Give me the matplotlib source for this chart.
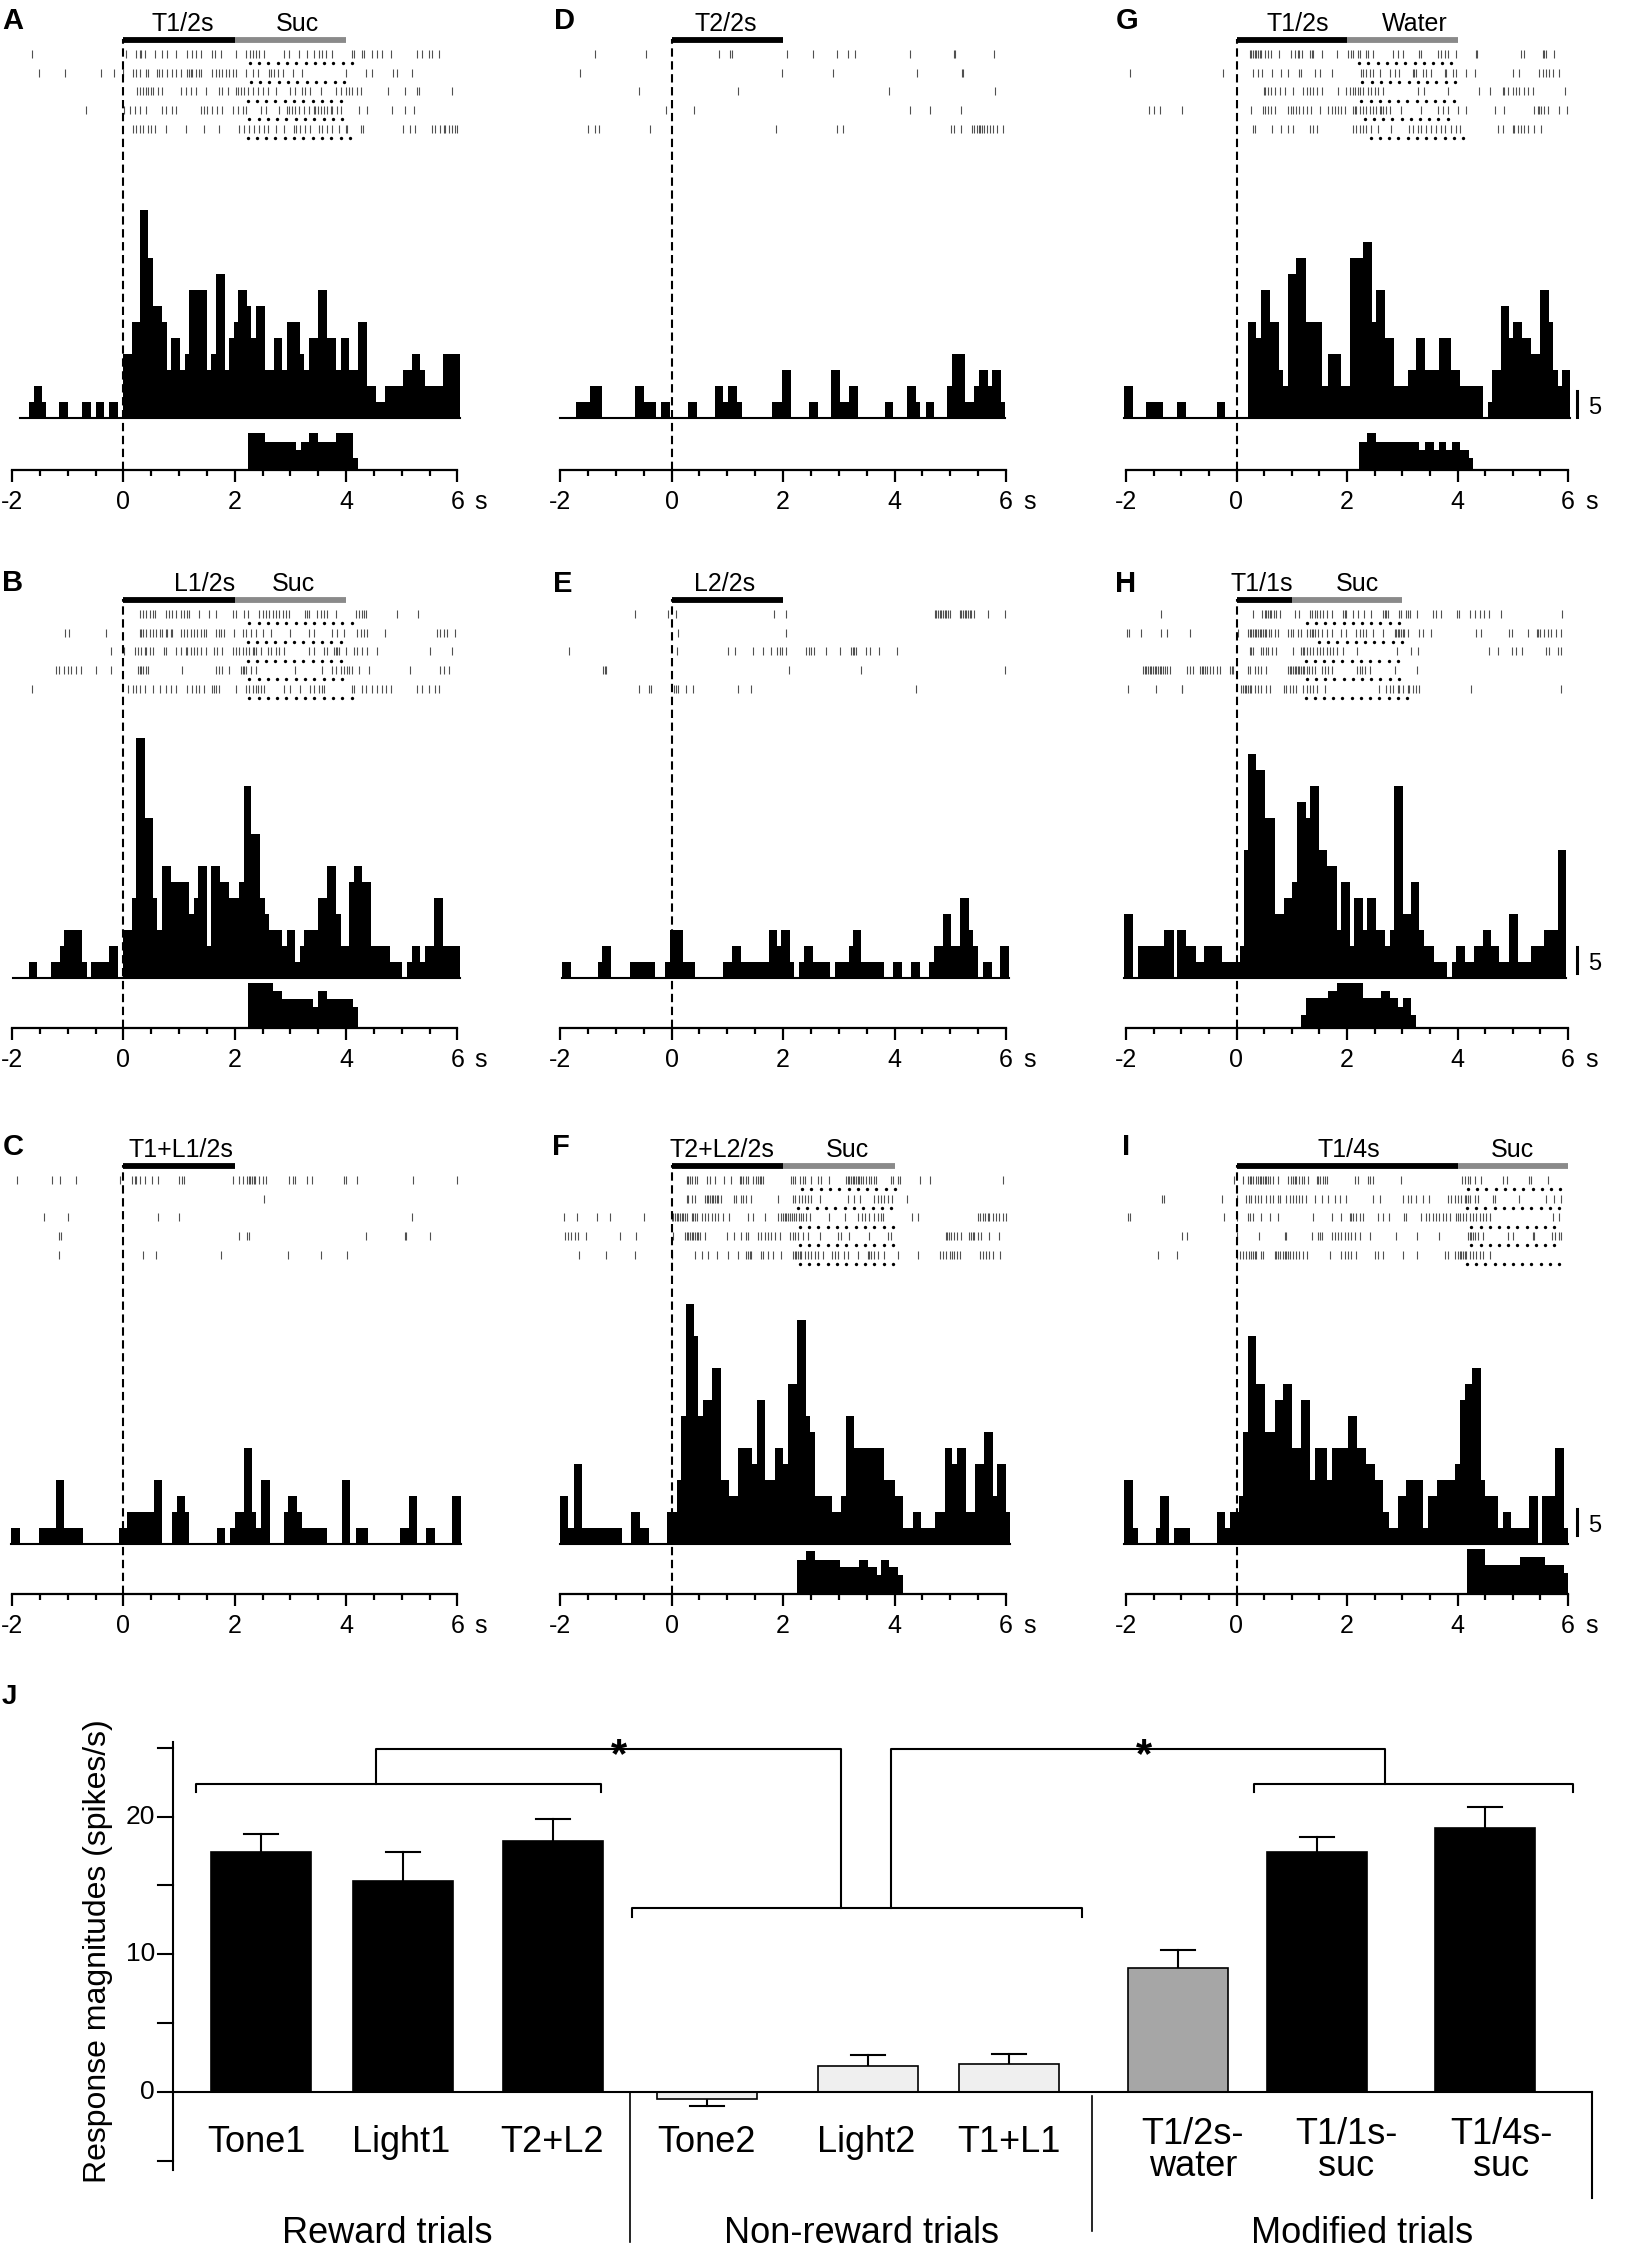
"""
PSTH panels A-I (raster + histogram + lick histogram) and bar summary J.
"""
import numpy as np
import matplotlib
matplotlib.use("Agg")
import matplotlib.pyplot as plt

plt.rcParams["font.family"] = ["Liberation Sans", "DejaVu Sans"]

# ---------------- data: PSTH step histograms (1 unit = 3 spikes/s) ----------------
A_edges = [-1.85, -1.70, -1.61, -1.46, -1.39, -1.15, -0.99, -0.74, -0.58, -0.50, -0.35, -0.26, -0.10, 0.0,
           0.15, 0.30, 0.45, 0.54, 0.69, 0.78, 0.86, 1.02, 1.10, 1.18, 1.50, 1.58, 1.66, 1.82, 1.90, 1.99,
           2.06, 2.22, 2.30, 2.38, 2.54, 2.70, 2.85, 2.93, 3.18, 3.25, 3.34, 3.50, 3.66, 3.82, 3.90, 4.05,
           4.22, 4.38, 4.54, 4.70, 5.02, 5.18, 5.33, 5.42, 5.74, 6.05]
A_counts = [0, 1, 2, 1, 0, 1, 0, 1, 0, 1, 0, 1, 0, 4, 6, 13, 10, 7, 6, 3, 5, 3, 4, 8, 3, 4, 9, 3, 5, 6,
            8, 7, 5, 7, 3, 5, 3, 6, 4, 3, 5, 8, 5, 3, 5, 3, 6, 2, 1, 2, 3, 4, 3, 2, 4]
B_edges = [-1.98, -1.69, -1.55, -1.30, -1.13, -1.06, -0.75, -0.66, -0.58, -0.26, -0.10, -0.01, 0.15, 0.23,
           0.38, 0.54, 0.61, 0.69, 0.85, 1.18, 1.27, 1.34, 1.50, 1.58, 1.74, 1.90, 2.08, 2.16, 2.30, 2.45,
           2.54, 2.62, 2.85, 2.93, 3.09, 3.18, 3.25, 3.50, 3.66, 3.81, 3.90, 4.06, 4.14, 4.29, 4.45, 4.78,
           5.01, 5.10, 5.18, 5.33, 5.42, 5.57, 5.74, 6.05]
B_counts = [0, 1, 0, 1, 2, 3, 1, 0, 1, 2, 0, 3, 5, 15, 10, 5, 3, 7, 6, 4, 5, 7, 2, 7, 6, 5, 6, 12, 9, 5,
            4, 3, 2, 3, 1, 2, 3, 5, 7, 4, 2, 6, 7, 6, 2, 1, 0, 1, 2, 1, 2, 5, 2]
C_edges = [-2.01, -1.86, -1.52, -1.21, -1.06, -0.73, -0.08, 0.07, 0.55, 0.70, 0.88, 0.96, 1.11, 1.18, 1.68,
           1.83, 1.92, 2.00, 2.16, 2.31, 2.38, 2.47, 2.63, 2.88, 2.96, 3.11, 3.20, 3.66, 3.92, 4.07, 4.17,
           4.39, 4.96, 5.13, 5.27, 5.44, 5.59, 5.91, 6.07]
C_counts = [1, 0, 1, 4, 1, 0, 1, 2, 4, 0, 2, 3, 2, 0, 1, 0, 1, 2, 6, 2, 1, 4, 0, 2, 3, 2, 1, 0, 4, 0,
            1, 0, 1, 3, 0, 1, 0, 3]
D_edges = [-2.0, -1.72, -1.47, -1.24, -0.66, -0.50, -0.27, -0.18, -0.03, 0.30, 0.45, 0.78, 0.93, 1.02, 1.17,
           1.26, 1.81, 1.98, 2.14, 2.47, 2.62, 2.86, 3.02, 3.19, 3.34, 3.83, 3.98, 4.23, 4.39, 4.46, 4.56,
           4.70, 4.95, 5.03, 5.27, 5.43, 5.51, 5.67, 5.75, 5.91, 5.99]
D_counts = [0, 1, 2, 0, 2, 1, 0, 1, 0, 1, 0, 2, 1, 2, 1, 0, 1, 3, 0, 1, 0, 3, 1, 2, 0, 1, 0, 2, 1, 0,
            1, 0, 2, 4, 1, 2, 3, 2, 3, 1]
E_edges = [-1.96, -1.81, -1.32, -1.24, -1.09, -0.75, -0.29, -0.11, -0.03, 0.20, 0.43, 0.93, 1.08, 1.25, 1.74,
           1.89, 1.96, 2.13, 2.20, 2.29, 2.38, 2.53, 2.85, 2.94, 3.18, 3.25, 3.40, 3.82, 3.97, 4.13, 4.30,
           4.45, 4.62, 4.70, 4.87, 5.02, 5.18, 5.34, 5.41, 5.50, 5.59, 5.74, 5.90, 6.05]
E_counts = [1, 0, 1, 2, 0, 1, 0, 1, 3, 1, 0, 1, 2, 1, 3, 2, 3, 1, 0, 1, 2, 1, 0, 1, 2, 3, 1, 0, 1, 0,
            1, 0, 1, 2, 4, 2, 5, 3, 2, 0, 1, 0, 2]
F_edges = [-2.00, -1.85, -1.75, -1.60, -0.88, -0.72, -0.56, -0.41, -0.08, 0.09, 0.17, 0.26, 0.40, 0.48, 0.57,
           0.73, 0.88, 1.04, 1.20, 1.44, 1.53, 1.68, 1.85, 2.00, 2.09, 2.25, 2.41, 2.48, 2.57, 2.88, 3.04,
           3.13, 3.28, 3.82, 4.00, 4.16, 4.33, 4.48, 4.73, 4.90, 5.04, 5.12, 5.28, 5.44, 5.61, 5.76, 5.84,
           6.00, 6.08]
F_counts = [3, 1, 5, 1, 0, 2, 1, 0, 2, 4, 8, 15, 13, 8, 9, 11, 4, 3, 6, 5, 9, 4, 6, 5, 10, 14, 8, 7, 3, 2,
            3, 8, 6, 4, 3, 1, 2, 1, 2, 6, 5, 6, 2, 5, 7, 3, 5, 2]
G_edges = [-2.03, -1.87, -1.63, -1.33, -1.07, -0.92, -0.35, -0.20, 0.21, 0.36, 0.45, 0.60, 0.77, 0.84, 0.93,
           1.08, 1.25, 1.55, 1.66, 1.89, 2.05, 2.29, 2.45, 2.53, 2.69, 2.85, 3.10, 3.25, 3.42, 3.66, 3.89,
           4.05, 4.46, 4.55, 4.63, 4.79, 4.94, 5.00, 5.17, 5.33, 5.49, 5.65, 5.72, 5.81, 5.89, 6.04]
G_counts = [2, 0, 1, 0, 1, 0, 1, 0, 6, 5, 8, 6, 3, 2, 9, 10, 6, 2, 4, 2, 10, 11, 6, 8, 5, 2, 3, 5, 3, 5,
            3, 2, 0, 1, 3, 7, 5, 6, 5, 4, 8, 6, 3, 2, 3]
H_edges = [-2.03, -1.87, -1.78, -1.31, -1.14, -1.07, -0.92, -0.74, -0.58, -0.27, 0.06, 0.13, 0.21, 0.36, 0.52,
           0.69, 0.86, 1.01, 1.10, 1.25, 1.33, 1.49, 1.64, 1.81, 1.90, 2.05, 2.13, 2.29, 2.37, 2.53, 2.68,
           2.77, 2.85, 3.01, 3.16, 3.31, 3.40, 3.57, 3.81, 3.90, 3.98, 4.14, 4.30, 4.46, 4.60, 4.76, 4.94,
           5.09, 5.33, 5.57, 5.81, 5.96]
H_counts = [4, 0, 2, 3, 0, 3, 2, 1, 2, 1, 2, 8, 14, 13, 10, 4, 5, 6, 11, 10, 12, 8, 7, 3, 6, 2, 5, 3, 5, 3,
            2, 3, 12, 4, 6, 3, 2, 1, 0, 1, 2, 1, 2, 3, 2, 1, 4, 1, 2, 3, 8]
I_edges = [-2.03, -1.87, -1.78, -1.46, -1.39, -1.23, -1.14, -0.84, -0.35, -0.20, -0.11, 0.05, 0.12, 0.21, 0.36,
           0.52, 0.69, 0.84, 1.01, 1.16, 1.33, 1.42, 1.63, 1.73, 2.02, 2.18, 2.35, 2.50, 2.66, 2.76, 2.92,
           3.07, 3.37, 3.46, 3.63, 3.95, 4.04, 4.13, 4.27, 4.42, 4.49, 4.73, 4.82, 4.97, 5.30, 5.45, 5.53,
           5.77, 5.92, 6.00]
I_counts = [4, 1, 0, 1, 3, 0, 1, 0, 2, 1, 2, 3, 7, 13, 10, 7, 9, 10, 6, 9, 4, 6, 4, 6, 8, 6, 5, 4, 2, 1,
            3, 4, 1, 3, 4, 5, 9, 10, 11, 4, 3, 1, 2, 1, 3, 0, 3, 6, 1]

# ---------------- data: lick histograms ----------------
A_lick_edges = [2.23, 2.54, 3.10, 3.19, 3.34, 3.50, 3.82, 4.13, 4.22]
A_lick = [4.0, 3.1, 2.2, 3.1, 4.0, 3.1, 4.0, 1.3]
B_lick_edges = [2.23, 2.69, 2.85, 3.41, 3.50, 3.66, 4.12, 4.21]
B_lick = [4.9, 4.0, 3.1, 2.3, 4.0, 3.1, 2.3]
F_lick_edges = [2.25, 2.41, 2.57, 3.03, 3.36, 3.52, 3.69, 3.76, 3.91, 4.07, 4.15]
F_lick = [3.7, 4.6, 3.7, 2.9, 3.7, 2.9, 2.0, 3.7, 2.9, 2.0]
G_lick_edges = [2.21, 2.36, 2.52, 3.31, 3.42, 3.57, 3.66, 3.80, 3.90, 4.04, 4.20, 4.28]
G_lick = [3.1, 4.0, 3.1, 2.2, 3.1, 2.2, 3.1, 2.2, 3.1, 2.2, 1.3]
H_lick_edges = [1.17, 1.25, 1.66, 1.82, 2.29, 2.61, 2.77, 2.92, 3.01, 3.16, 3.24]
H_lick = [1.4, 3.2, 4.0, 4.9, 3.2, 4.0, 3.2, 2.3, 3.2, 1.4]
I_lick_edges = [4.17, 4.49, 5.13, 5.59, 5.92, 6.00]
I_lick = [4.9, 3.1, 4.0, 3.1, 2.3]

# ---------------- data: spike rasters (5 trials each, s) ----------------
A_spikes = [
    [-1.64, 0.05, 0.22, 0.29, 0.32, 0.38, 0.56, 0.70, 0.79, 0.94, 1.15, 1.23, 1.30, 1.39, 1.60, 1.65, 1.75, 2.02,
     2.20, 2.27, 2.32, 2.38, 2.44, 2.53, 2.88, 2.98, 3.15, 3.30, 3.42, 3.52, 3.57, 3.63, 3.75, 4.11, 4.14, 4.28,
     4.32, 4.47, 4.56, 4.65, 4.80, 5.27, 5.36, 5.48, 5.54, 5.66],
    [-1.52, -1.04, -0.40, -0.16, 0.0, 0.17, 0.23, 0.29, 0.41, 0.44, 0.61, 0.64, 0.70, 0.79, 0.88, 0.94, 1.03, 1.15,
     1.18, 1.21, 1.24, 1.30, 1.36, 1.39, 1.60, 1.66, 1.72, 1.78, 1.84, 1.90, 1.96, 2.03, 2.20, 2.32, 2.41, 2.62,
     2.65, 2.71, 2.77, 2.86, 3.04, 3.21, 3.99, 4.35, 4.47, 4.85, 4.91, 5.18],
    [0.24, 0.29, 0.35, 0.41, 0.44, 0.50, 0.53, 0.62, 0.70, 1.03, 1.12, 1.21, 1.30, 1.48, 1.72, 1.77, 1.87, 2.02,
     2.05, 2.11, 2.17, 2.23, 2.32, 2.41, 2.50, 2.59, 2.74, 3.00, 3.09, 3.21, 3.27, 3.36, 3.54, 3.81, 3.90, 3.99,
     4.05, 4.11, 4.20, 4.26, 4.76, 5.06, 5.27, 5.31, 5.90],
    [-0.67, 0.02, 0.11, 0.20, 0.29, 0.41, 0.70, 0.76, 0.88, 0.94, 1.39, 1.45, 1.51, 1.60, 1.69, 1.78, 1.96, 2.05,
     2.14, 2.20, 2.47, 2.56, 2.79, 2.94, 2.97, 3.03, 3.09, 3.15, 3.24, 3.33, 3.42, 3.45, 3.50, 3.54, 3.60, 3.66,
     3.72, 3.75, 3.84, 3.90, 4.23, 4.38, 4.82, 5.06, 5.21],
    [0.17, 0.23, 0.29, 0.35, 0.44, 0.50, 0.56, 0.76, 1.12, 1.45, 1.72, 2.08, 2.17, 2.26, 2.35, 2.44, 2.53, 2.59,
     2.74, 2.88, 3.06, 3.10, 3.18, 3.27, 3.36, 3.51, 3.57, 3.66, 3.75, 3.87, 3.99, 4.02, 4.26, 4.30, 5.03, 5.15,
     5.24, 5.54, 5.60, 5.69, 5.75, 5.78, 5.84, 5.90, 5.96, 6.00],
]
B_spikes = [
    [0.29, 0.35, 0.41, 0.47, 0.53, 0.56, 0.76, 0.82, 0.88, 0.94, 1.03, 1.09, 1.15, 1.18, 1.36, 1.54, 1.66, 1.96,
     2.02, 2.17, 2.23, 2.44, 2.50, 2.56, 2.62, 2.68, 2.74, 2.80, 2.86, 2.92, 2.98, 3.27, 3.30, 3.33, 3.48, 3.54,
     3.60, 3.66, 3.81, 4.17, 4.23, 4.29, 4.32, 4.35, 4.91, 5.29],
    [-1.04, -0.98, -0.32, 0.29, 0.32, 0.35, 0.41, 0.47, 0.53, 0.59, 0.65, 0.70, 0.76, 0.79, 0.85, 0.88, 1.03, 1.09,
     1.15, 1.21, 1.27, 1.33, 1.39, 1.45, 1.49, 1.66, 1.72, 1.75, 1.81, 1.99, 2.14, 2.20, 2.29, 2.38, 2.50, 2.65,
     3.00, 3.33, 3.42, 3.75, 3.84, 3.96, 4.20, 4.26, 4.32, 4.38, 4.70, 5.63, 5.69, 5.75, 5.81, 5.96],
    [-0.22, 0.02, 0.20, 0.26, 0.32, 0.38, 0.41, 0.47, 0.53, 0.73, 0.76, 0.94, 1.03, 1.12, 1.15, 1.21, 1.27, 1.33,
     1.39, 1.48, 1.63, 1.69, 1.78, 1.96, 2.02, 2.08, 2.14, 2.20, 2.26, 2.32, 2.35, 2.38, 2.47, 2.60, 2.65, 2.74,
     2.80, 2.88, 3.33, 3.42, 3.60, 3.66, 3.78, 3.81, 3.84, 3.87, 3.99, 4.14, 4.20, 4.29, 4.38, 4.56, 5.51, 5.90],
    [-1.21, -1.15, -1.06, -1.00, -0.94, -0.85, -0.76, -0.49, -0.22, 0.26, 0.29, 0.32, 0.35, 0.41, 0.44, 1.06, 1.66,
     1.72, 1.78, 1.90, 2.11, 2.14, 2.17, 2.20, 2.29, 2.38, 3.09, 3.57, 3.75, 3.81, 3.90, 3.96, 4.02, 4.05, 4.11,
     4.23, 4.41, 5.15, 5.69, 5.75, 5.84],
    [-1.64, 0.08, 0.17, 0.23, 0.29, 0.38, 0.53, 0.65, 0.76, 0.85, 0.94, 1.15, 1.24, 1.30, 1.36, 1.45, 1.60, 1.63,
     1.66, 1.72, 2.02, 2.20, 2.26, 2.32, 2.38, 2.41, 2.47, 2.53, 2.88, 3.00, 3.18, 3.36, 3.42, 3.51, 3.57, 3.60,
     4.11, 4.14, 4.29, 4.35, 4.47, 4.56, 4.65, 4.71, 4.80, 5.27, 5.36, 5.48, 5.60, 5.66],
]
C_spikes = [
    [-1.91, -1.28, -1.14, -0.85, -0.06, 0.16, 0.20, 0.23, 0.30, 0.39, 0.51, 0.63, 0.99, 1.05, 1.08, 1.97, 2.08,
     2.14, 2.22, 2.25, 2.28, 2.31, 2.34, 2.37, 2.43, 2.51, 2.57, 2.97, 3.05, 3.08, 3.30, 3.39, 3.97, 4.00, 4.19,
     5.20, 6.00],
    [2.53],
    [-1.43, -1.00, 0.63, 1.00, 5.19],
    [-1.15, -1.12, 2.08, 2.22, 2.25, 4.35, 5.05, 5.08, 5.50],
    [-1.16, 0.36, 0.59, 1.75, 2.95, 3.55, 4.02],
]
D_spikes = [
    [-1.38, -0.45, 0.85, 1.05, 1.08, 2.07, 2.53, 2.96, 3.17, 3.29, 4.27, 5.06, 5.08, 5.79],
    [-1.65, 1.98, 2.90, 4.41, 5.21, 5.23],
    [-0.58, 1.20, 3.91, 5.81],
    [-0.10, 0.40, 4.27, 4.63, 5.20],
    [-1.50, -1.38, -1.30, -0.39, 1.87, 2.96, 3.07, 5.01, 5.07, 5.19, 5.39, 5.43, 5.48, 5.51, 5.54, 5.57, 5.60,
     5.66, 5.72, 5.77, 5.84, 5.95],
]
E_spikes = [
    [-0.65, -0.07, 0.08, 1.83, 2.05, 4.72, 4.75, 4.78, 4.81, 4.84, 4.87, 4.90, 4.93, 4.96, 5.00, 5.17, 5.20,
     5.23, 5.26, 5.29, 5.32, 5.35, 5.38, 5.42, 5.68, 5.99],
    [0.11, 2.05],
    [-1.84, 0.09, 1.01, 1.14, 1.46, 1.65, 1.78, 1.89, 1.95, 1.99, 2.05, 2.41, 2.46, 2.50, 2.56, 2.78, 3.03,
     3.22, 3.25, 3.28, 3.31, 3.48, 3.56, 3.72, 4.05],
    [-1.23, -1.20, -1.17, 2.10, 3.40, 5.99],
    [-0.59, -0.41, -0.37, 0.05, 0.08, 0.11, 0.26, 0.39, 1.20, 1.43, 4.38],
]
F_spikes = [
    [0.27, 0.30, 0.33, 0.36, 0.42, 0.45, 0.63, 0.69, 0.78, 0.94, 1.07, 1.22, 1.25, 1.28, 1.33, 1.37, 1.46, 1.52,
     1.55, 1.58, 1.61, 1.64, 2.14, 2.18, 2.22, 2.30, 2.36, 2.39, 2.51, 2.63, 2.69, 2.82, 3.13, 3.16, 3.19, 3.22,
     3.25, 3.28, 3.31, 3.34, 3.37, 3.40, 3.43, 3.49, 3.55, 3.58, 3.63, 3.67, 3.94, 3.97, 4.06, 4.09, 4.45, 4.64,
     5.94],
    [0.28, 0.30, 0.36, 0.42, 0.60, 0.63, 0.66, 0.69, 0.72, 0.75, 0.78, 0.81, 0.84, 0.88, 1.13, 1.16, 1.25, 1.28,
     1.34, 1.43, 1.91, 2.18, 2.21, 2.28, 2.34, 2.39, 2.45, 2.51, 2.67, 3.16, 3.28, 3.39, 3.64, 3.70, 3.76, 3.82,
     3.88, 3.95, 4.23],
    [-1.92, -1.70, -1.34, -1.10, -0.49, 0.0, 0.03, 0.06, 0.09, 0.12, 0.15, 0.18, 0.21, 0.24, 0.27, 0.36, 0.39,
     0.42, 0.45, 0.54, 0.60, 0.66, 0.72, 0.78, 0.84, 0.93, 1.04, 1.37, 1.46, 1.67, 1.91, 1.96, 2.00, 2.03, 2.06,
     2.09, 2.12, 2.16, 2.20, 2.24, 2.28, 2.32, 2.36, 2.42, 2.48, 2.82, 3.12, 3.34, 3.41, 3.47, 3.55, 3.63, 3.70,
     3.76, 3.79, 4.31, 4.42, 5.50, 5.54, 5.58, 5.62, 5.67, 5.70, 5.76, 5.82, 5.88, 5.94, 6.00],
    [-1.91, -1.86, -1.80, -1.73, -1.67, -1.54, -0.93, -0.63, 0.03, 0.24, 0.27, 0.30, 0.33, 0.36, 0.39, 0.42, 0.45,
     0.48, 0.52, 0.60, 0.99, 1.13, 1.25, 1.34, 1.37, 1.55, 1.61, 1.67, 1.73, 1.79, 1.85, 1.94, 2.12, 2.18, 2.21,
     2.27, 2.36, 2.45, 2.66, 2.99, 3.04, 3.19, 3.55, 3.88, 3.94, 4.92, 4.95, 4.98, 5.01, 5.07, 5.13, 5.19, 5.34,
     5.37, 5.40, 5.43, 5.49, 5.55, 5.70, 5.88],
    [-1.66, -1.18, -0.66, 0.0, 0.43, 0.54, 0.66, 0.81, 1.01, 1.19, 1.34, 1.37, 1.40, 1.43, 1.61, 1.64, 1.73, 1.82,
     1.97, 2.18, 2.21, 2.24, 2.27, 2.30, 2.33, 2.39, 2.45, 2.51, 2.57, 2.63, 2.72, 2.88, 2.93, 2.99, 3.10, 3.16,
     3.34, 3.52, 3.55, 3.58, 3.64, 3.70, 3.82, 4.06, 4.42, 4.82, 4.87, 4.93, 4.99, 5.03, 5.07, 5.13, 5.18, 5.54,
     5.58, 5.64, 5.70, 5.76, 5.90],
]
G_spikes = [
    [0.24, 0.27, 0.30, 0.33, 0.36, 0.39, 0.42, 0.45, 0.51, 0.57, 0.63, 0.77, 0.99, 1.05, 1.11, 1.14, 1.19, 1.33,
     1.36, 1.39, 1.54, 1.81, 2.02, 2.08, 2.11, 2.20, 2.23, 2.35, 2.38, 2.47, 2.83, 2.92, 3.01, 3.31, 3.34, 3.64,
     3.70, 3.77, 3.83, 3.98, 4.33, 4.35, 5.15, 5.21, 5.54, 5.57, 5.60, 5.75],
    [-1.93, -0.24, 0.30, 0.39, 0.47, 0.65, 0.81, 0.93, 1.14, 1.17, 1.42, 1.51, 1.72, 2.26, 2.29, 2.35, 2.41, 2.47,
     2.59, 2.77, 2.86, 2.95, 3.19, 3.22, 3.25, 3.37, 3.43, 3.52, 3.77, 3.80, 3.92, 3.98, 4.16, 4.31, 5.00, 5.12,
     5.48, 5.54, 5.60, 5.66, 5.72, 5.84],
    [0.49, 0.52, 0.57, 0.63, 0.69, 0.78, 0.87, 1.02, 1.20, 1.27, 1.33, 1.39, 1.45, 1.55, 1.84, 1.99, 2.05, 2.11,
     2.14, 2.20, 2.23, 2.29, 2.38, 2.44, 2.50, 2.56, 2.66, 3.28, 3.40, 3.83, 4.39, 4.58, 4.82, 4.85, 4.91, 5.00,
     5.06, 5.12, 5.21, 5.27, 5.36, 5.95],
    [-1.58, -1.49, -1.39, -0.98, 0.27, 0.48, 0.51, 0.57, 0.63, 0.69, 0.93, 0.98, 1.02, 1.08, 1.14, 1.20, 1.27,
     1.34, 1.51, 1.66, 1.72, 1.78, 1.84, 1.90, 1.96, 2.11, 2.14, 2.17, 2.23, 2.29, 2.35, 2.41, 2.47, 2.53, 2.59,
     2.62, 2.65, 2.71, 2.77, 2.98, 3.34, 3.64, 3.73, 3.83, 4.01, 4.16, 4.67, 4.85, 5.39, 5.45, 5.48, 5.51, 5.57,
     5.63, 5.84, 5.99],
    [0.30, 0.34, 0.65, 0.81, 0.93, 1.02, 1.33, 1.39, 1.46, 2.11, 2.17, 2.23, 2.29, 2.35, 2.44, 2.56, 2.80, 3.12,
     3.19, 3.28, 3.34, 3.43, 3.52, 3.61, 3.70, 3.78, 3.89, 3.98, 4.04, 4.73, 4.82, 5.00, 5.03, 5.09, 5.15, 5.21,
     5.27, 5.38, 5.51],
]
H_spikes = [
    [-1.37, 0.30, 0.47, 0.51, 0.54, 0.57, 0.60, 0.63, 0.67, 0.72, 0.78, 1.05, 1.14, 1.33, 1.37, 1.42, 1.46, 1.51,
     1.57, 1.63, 1.72, 1.92, 1.96, 1.99, 2.10, 2.20, 2.31, 2.44, 2.65, 2.68, 2.71, 2.74, 2.95, 2.98, 3.06, 3.10,
     3.14, 3.27, 3.55, 3.61, 3.70, 3.99, 4.02, 4.23, 4.31, 4.40, 4.48, 4.57, 4.79, 5.90],
    [-1.99, -1.94, -1.73, -1.36, -1.25, -0.84, 0.03, 0.21, 0.24, 0.27, 0.30, 0.33, 0.36, 0.39, 0.42, 0.45, 0.48,
     0.51, 0.54, 0.58, 0.63, 0.69, 0.75, 0.93, 0.98, 1.02, 1.11, 1.17, 1.27, 1.33, 1.36, 1.39, 1.42, 1.48, 1.54,
     1.63, 1.72, 1.90, 1.99, 2.17, 2.23, 2.29, 2.35, 2.47, 2.65, 2.86, 2.89, 2.92, 2.95, 2.98, 3.01, 3.04, 3.10,
     3.31, 3.37, 3.52, 4.34, 4.43, 4.94, 4.99, 5.27, 5.43, 5.46, 5.49, 5.57, 5.63, 5.69, 5.78, 5.87],
    [0.24, 0.27, 0.30, 0.45, 0.48, 0.53, 0.57, 0.65, 0.72, 1.02, 1.17, 1.20, 1.23, 1.27, 1.33, 1.39, 1.45, 1.52,
     1.57, 1.63, 1.69, 1.75, 1.81, 1.93, 2.18, 2.90, 3.16, 3.28, 4.57, 4.73, 4.99, 5.06, 5.17, 5.61, 5.65, 5.81,
     5.87],
    [-1.69, -1.66, -1.63, -1.60, -1.57, -1.54, -1.51, -1.48, -1.45, -1.42, -1.39, -1.36, -1.33, -1.30, -1.25,
     -1.20, -0.90, -0.84, -0.78, -0.66, -0.63, -0.60, -0.57, -0.54, -0.48, -0.43, -0.36, -0.30, -0.12, -0.09,
     -0.06, 0.21, 0.24, 0.33, 0.39, 0.45, 0.54, 0.93, 0.96, 0.99, 1.02, 1.05, 1.08, 1.11, 1.14, 1.17, 1.20, 1.23,
     1.27, 1.31, 1.36, 1.42, 1.54, 1.60, 1.66, 1.72, 2.18, 2.23, 2.28, 2.32, 2.41, 2.86, 3.27],
    [-1.96, -1.45, -0.99, -0.98, 0.09, 0.12, 0.15, 0.18, 0.21, 0.24, 0.27, 0.33, 0.39, 0.45, 0.53, 0.61, 0.86,
     0.90, 0.96, 1.02, 1.08, 1.20, 1.27, 1.33, 1.39, 1.45, 1.60, 2.58, 2.71, 2.77, 2.83, 2.92, 2.95, 3.01, 3.10,
     3.13, 3.19, 3.25, 3.31, 4.25, 5.87],
]
I_spikes = [
    [-0.05, 0.12, 0.21, 0.24, 0.27, 0.30, 0.36, 0.39, 0.42, 0.45, 0.48, 0.51, 0.54, 0.57, 0.60, 0.66, 0.75, 0.93,
     0.98, 1.02, 1.05, 1.08, 1.14, 1.19, 1.23, 1.29, 1.45, 1.48, 1.51, 1.56, 1.60, 1.63, 2.14, 2.20, 2.38, 2.41,
     2.47, 2.98, 4.08, 4.13, 4.19, 4.23, 4.31, 4.43, 4.82, 4.89, 5.30, 5.33, 5.63],
    [-1.34, -1.31, -0.27, 0.0, 0.18, 0.23, 0.27, 0.33, 0.39, 0.45, 0.53, 0.60, 0.66, 0.75, 0.78, 0.90, 0.96, 1.02,
     1.08, 1.14, 1.19, 1.25, 1.42, 1.54, 1.66, 1.78, 1.87, 1.99, 2.47, 2.59, 3.01, 3.10, 3.16, 3.25, 3.37, 3.48,
     3.83, 3.89, 3.95, 4.01, 4.07, 4.13, 4.16, 4.19, 4.22, 4.31, 4.37, 4.64, 4.67, 5.12, 5.60, 5.75, 5.87],
    [-1.96, -1.93, -0.23, 0.0, 0.21, 0.25, 0.30, 0.45, 0.60, 0.75, 1.39, 1.73, 1.90, 2.05, 2.08, 2.11, 2.17, 2.23,
     2.29, 2.56, 2.65, 2.76, 3.04, 3.07, 3.34, 3.43, 3.49, 3.55, 3.61, 3.67, 3.73, 3.80, 3.86, 3.98, 4.01, 4.04,
     4.10, 4.16, 4.22, 4.28, 4.34, 4.40, 4.46, 4.52, 4.59, 5.72, 5.84],
    [-0.99, -0.90, 0.0, 0.40, 0.87, 0.90, 1.37, 1.48, 1.51, 1.54, 1.72, 1.78, 1.84, 1.90, 1.96, 2.02, 2.08, 2.14,
     2.23, 2.41, 2.89, 3.27, 3.66, 4.19, 4.22, 4.25, 4.28, 4.31, 4.37, 4.46, 4.91, 5.00, 5.36, 5.39, 5.71, 5.77,
     5.83, 5.87],
    [-1.42, -1.08, 0.0, 0.06, 0.12, 0.18, 0.23, 0.27, 0.30, 0.33, 0.36, 0.45, 0.48, 0.69, 0.72, 0.75, 0.78, 0.84,
     0.87, 0.90, 0.93, 0.96, 1.02, 1.08, 1.14, 1.20, 1.27, 1.70, 1.90, 1.96, 2.02, 2.08, 2.17, 2.50, 2.56, 2.65,
     3.01, 3.27, 3.77, 3.83, 3.95, 4.01, 4.04, 4.07, 4.10, 4.13, 4.16, 4.22, 4.28, 4.34, 4.40, 4.46, 4.58],
]

# lick bouts per trial (start, end in s), drawn as dots
A_lick_runs = [(2.27, 4.12), (2.29, 4.02), (2.23, 4.05), (2.26, 4.02), (2.23, 4.08)]
B_lick_runs = [(2.26, 4.11), (2.23, 4.02), (2.23, 4.05), (2.26, 4.02), (2.26, 4.12)]
F_lick_runs = [(2.34, 4.05), (2.27, 3.97), (2.30, 3.97), (2.30, 4.05), (2.30, 4.01)]
G_lick_runs = [(2.22, 4.04), (2.28, 4.08), (2.26, 3.98), (2.32, 3.98), (2.43, 4.16)]
H_lick_runs = [(1.27, 3.10), (1.49, 3.02), (1.25, 3.04), (1.27, 2.98), (1.25, 3.10)]
I_lick_runs = [(4.19, 5.93), (4.17, 5.93), (4.25, 5.84), (4.25, 5.84), (4.17, 5.84)]
LICK_INTERVAL = 0.167

# stimulus epochs: (label, start, end)
A_epochs = [("T1/2s", 0, 2), ("Suc", 2, 4)]
B_epochs = [("L1/2s", 0, 2), ("Suc", 2, 4)]
C_epochs = [("T1+L1/2s", 0, 2)]
D_epochs = [("T2/2s", 0, 2)]
E_epochs = [("L2/2s", 0, 2)]
F_epochs = [("T2+L2/2s", 0, 2), ("Suc", 2, 4)]
G_epochs = [("T1/2s", 0, 2), ("Water", 2, 4)]
H_epochs = [("T1/1s", 0, 1), ("Suc", 1, 3)]
I_epochs = [("T1/4s", 0, 4), ("Suc", 4, 6)]

# ---------------- data: panel J ----------------
J_labels = ["Tone1", "Light1", "T2+L2", "Tone2", "Light2", "T1+L1",
            "T1/2s-\nwater", "T1/1s-\nsuc", "T1/4s-\nsuc"]
J_means = [17.4, 15.3, 18.2, -0.5, 1.9, 2.0, 9.0, 17.4, 19.2]
J_sems = [1.3, 2.1, 1.6, 0.5, 0.75, 0.75, 1.3, 1.15, 1.5]
J_groups = ["Reward trials", "Non-reward trials", "Modified trials"]

# ---------------- layout (figure pixels) ----------------
W, H = 1625, 2257
COL_X = [(12, 457.5), (560, 1006), (1126, 1568)]
ROW_BASE = [418, 978, 1544]
ROW_AXIS = [-3.25, -3.1, -3.1]
UNIT_PX = 16.0
Y_TOP = 26.0
LICK_SCALE = 0.573
TRIAL_Y = [22.75 - 1.165 * i for i in range(5)]
EPOCH_Y = 23.6

LABEL_X = {"A": [1.07, 3.13], "B": [1.45, 3.06], "C": [1.04], "D": [0.97], "E": [0.95],
           "F": [0.90, 3.15], "G": [1.11, 3.22], "H": [0.46, 2.18], "I": [2.03, 5.0]}
LETTER_XY = {"A": (13, 21), "B": (13, 583), "C": (13, 1147), "D": (564, 21), "E": (563, 584),
             "F": (561, 1147), "G": (1127, 21), "H": (1126, 584), "I": (1126, 1147)}
SCALEBAR_Y0 = {"G": 0.05, "H": 0.3, "I": 0.55}

PANELS = [
    ("A", 0, 0, A_edges, A_counts, A_lick_edges, A_lick, A_spikes, A_lick_runs, A_epochs),
    ("B", 0, 1, B_edges, B_counts, B_lick_edges, B_lick, B_spikes, B_lick_runs, B_epochs),
    ("C", 0, 2, C_edges, C_counts, None, None, C_spikes, None, C_epochs),
    ("D", 1, 0, D_edges, D_counts, None, None, D_spikes, None, D_epochs),
    ("E", 1, 1, E_edges, E_counts, None, None, E_spikes, None, E_epochs),
    ("F", 1, 2, F_edges, F_counts, F_lick_edges, F_lick, F_spikes, F_lick_runs, F_epochs),
    ("G", 2, 0, G_edges, G_counts, G_lick_edges, G_lick, G_spikes, G_lick_runs, G_epochs),
    ("H", 2, 1, H_edges, H_counts, H_lick_edges, H_lick, H_spikes, H_lick_runs, H_epochs),
    ("I", 2, 2, I_edges, I_counts, I_lick_edges, I_lick, I_spikes, I_lick_runs, I_epochs),
]

fig = plt.figure(figsize=(W / 100, H / 100), dpi=100)


def px_axes(x0, y0, x1, y1):
    return fig.add_axes([x0 / W, 1 - y1 / H, (x1 - x0) / W, (y1 - y0) / H])


def draw_psth(name, col, row, edges, counts, l_edges, licks, spikes, runs, epochs):
    x0, x6 = COL_X[col]
    base = ROW_BASE[row]
    ylo = ROW_AXIS[row]
    ax = px_axes(x0, base - Y_TOP * UNIT_PX, x6, base - ylo * UNIT_PX)
    ax.set_xlim(-2, 6)
    ax.set_ylim(ylo, Y_TOP)
    for s in ["top", "right", "left"]:
        ax.spines[s].set_visible(False)
    ax.spines["bottom"].set_linewidth(1.6)
    ax.set_yticks([])
    ax.set_xticks([-2, 0, 2, 4, 6])
    ax.set_xticklabels(["-2", "0", "2", "4", "6"])
    ax.set_xticks(np.arange(-2, 6.01, 0.5), minor=True)
    ax.tick_params(axis="x", which="major", length=8.5, width=1.6, pad=6, labelsize=18)
    ax.tick_params(axis="x", which="minor", length=4.5, width=1.6)
    ax.annotate("s", xy=(6.42, 0), xycoords=("data", "axes fraction"), xytext=(0, -14.5),
                textcoords="offset points", ha="center", va="top", fontsize=18)

    # PSTH
    ax.stairs(counts, edges, baseline=0, fill=True, color="black", lw=0, clip_on=False)
    ax.plot([edges[0], edges[-1]], [0, 0], color="black", lw=1.5, clip_on=False)

    # lick histogram sitting on the time axis
    if l_edges is not None:
        ax.stairs(ylo + LICK_SCALE * np.array(licks), l_edges, baseline=ylo, fill=True,
                  color="black", lw=0, clip_on=False)

    # raster
    ax.eventplot(spikes, lineoffsets=TRIAL_Y, linelengths=0.5, linewidths=0.8,
                 colors="#505050", clip_on=False)
    if runs is not None:
        for i, (a, b) in enumerate(runs):
            xs = np.arange(a, b + 1e-6, LICK_INTERVAL)
            ax.plot(xs, np.full(len(xs), TRIAL_Y[i] - 0.58), "o", ms=2.4, mew=0,
                    color="black", clip_on=False)

    # stimulus epochs
    for k, (lab, t0, t1) in enumerate(epochs):
        c = "black" if k == 0 else "#8a8a8a"
        ax.plot([t0, t1], [EPOCH_Y, EPOCH_Y], color=c, lw=4.2, solid_capstyle="butt", clip_on=False)
        ax.text(LABEL_X[name][k], 24.2, lab, ha="center", va="baseline", fontsize=18)

    ax.plot([0, 0], [ylo, EPOCH_Y + 0.1], color="black", lw=1.5, ls=(0, (4, 2.2)), zorder=5,
            clip_on=False)

    if name in SCALEBAR_Y0:
        y0 = SCALEBAR_Y0[name]
        ax.plot([6.17, 6.17], [y0, y0 + 5 / 3.0], color="black", lw=2.2, clip_on=False)
        ax.text(6.49, y0 + 0.6, "5", ha="center", va="center", fontsize=17)

    lx, ly = LETTER_XY[name]
    fig.text(lx / W, 1 - ly / H, name, fontsize=21, fontweight="bold", ha="center", va="center")


for p in PANELS:
    draw_psth(*p)

# ---------------- panel J ----------------
J_X = [260.5, 403, 553, 707, 868, 1009, 1178, 1317, 1485]
J_LABEL_X = [256, 401, 552, 707, 866, 1009, 1193, 1346, 1501]
J_GROUP_X = [387, 862, 1362]
J_COLORS = ["black", "black", "black", "#efefef", "#efefef", "#efefef", "#a6a6a6", "black", "black"]

axj = fig.add_axes([0, 0, 1, (H - 1679) / H])
axj.set_xlim(0, W)
axj.set_ylim(-12.01, 30.0)
axj.axis("off")
LW = 1.5

axj.bar(J_X, J_means, width=100, color=J_COLORS, edgecolor="black", linewidth=1.2, zorder=2)
for x, m, s in zip(J_X, J_means, J_sems):
    sgn = 1 if m >= 0 else -1
    tip = m + sgn * s
    axj.plot([x, x], [m, tip], color="black", lw=LW, zorder=1)
    axj.plot([x - 17, x + 17], [tip, tip], color="black", lw=LW)

# axes lines
axj.plot([172.5, 172.5], [-5.7, 25.4], color="black", lw=LW)
for v in [25, 20, 15, 10, 5, 0, -5]:
    axj.plot([158, 172.5], [v, v], color="black", lw=LW)
for v in [0, 10, 20]:
    axj.text(155, v, str(v), ha="right", va="center", fontsize=19)
axj.plot([172.5, 1592], [0, 0], color="black", lw=LW, zorder=3)
axj.plot([630, 630], [0, -10.9], color="black", lw=1.2)
axj.plot([1092, 1092], [-0.3, -10.1], color="black", lw=1.2)
axj.plot([1592, 1592], [0, -7.7], color="black", lw=LW)

axj.text(98, 10.2, "Response magnitudes (spikes/s)", rotation=90, ha="center", va="center",
         fontsize=23)

# significance brackets
bk = dict(color="black", lw=LW)
axj.plot([196, 196, 601, 601], [21.8, 22.4, 22.4, 21.8], **bk)
axj.plot([376, 376, 841, 841], [22.4, 24.9, 24.9, 13.35], **bk)
axj.plot([632, 632, 1082, 1082], [12.7, 13.35, 13.35, 12.7], **bk)
axj.plot([891, 891, 1385, 1385], [13.35, 24.9, 24.9, 22.4], **bk)
axj.plot([1254, 1254, 1573, 1573], [21.8, 22.4, 22.4, 21.8], **bk)
axj.text(619, 23.6, "*", ha="center", va="baseline", fontsize=30, fontweight="bold")
axj.text(1144, 23.6, "*", ha="center", va="baseline", fontsize=30, fontweight="bold")

for x, lab in zip(J_LABEL_X, J_labels):
    lines = lab.split("\n")
    if len(lines) == 1:
        axj.text(x, -4.41, lines[0], ha="center", va="baseline", fontsize=26)
    else:
        axj.text(x, -3.80, lines[0], ha="center", va="baseline", fontsize=26)
        axj.text(x, -6.09, lines[1], ha="center", va="baseline", fontsize=26)
for x, lab in zip(J_GROUP_X, J_groups):
    axj.text(x, -10.96, lab, ha="center", va="baseline", fontsize=26)

fig.text(9 / W, 1 - 1697 / H, "J", fontsize=20, fontweight="bold", ha="center", va="center")

fig.savefig("out.png", dpi=100)
